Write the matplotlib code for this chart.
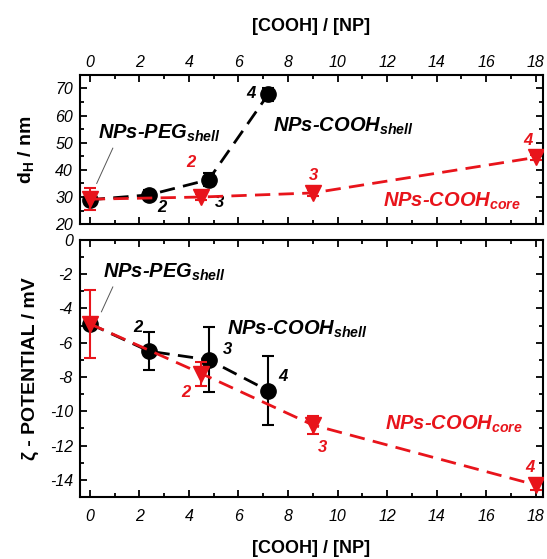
import numpy as np
import matplotlib
matplotlib.use("Agg")
from matplotlib import pyplot as plt
from matplotlib.ticker import MultipleLocator

plt.rcParams['font.family'] = ['Liberation Sans', 'DejaVu Sans']
plt.rcParams['mathtext.fontset'] = 'custom'
plt.rcParams['mathtext.rm'] = 'Liberation Sans:bold'
plt.rcParams['mathtext.it'] = 'Liberation Sans:italic:bold'
plt.rcParams['mathtext.bf'] = 'Liberation Sans:bold'
plt.rcParams['axes.unicode_minus'] = False

# data
x_shell = [0, 2.4, 4.8, 7.2]
x_core = [0, 4.5, 9, 18]

dh_shell = [29.0, 30.8, 36.4, 67.8]
dh_shell_err = [1.5, 1.8, 2.5, 2.5]
dh_core = [29.2, 30.0, 31.5, 44.6]
dh_core_err = [4.1, 1.0, 1.0, 1.0]

zeta_shell = [-4.9, -6.5, -7.0, -8.8]
zeta_shell_err = [0.3, 1.1, 1.9, 2.0]
zeta_core = [-4.9, -7.8, -10.8, -14.3]
zeta_core_err = [2.0, 0.7, 0.5, 0.3]

xticks = [0, 2, 4, 6, 8, 10, 12, 14, 16, 18]
red = "#e8141b"

fig = plt.figure(figsize=(5.47, 5.59), dpi=100)
ax1 = fig.add_axes([0.146, 0.599, 0.847, 0.267])
ax2 = fig.add_axes([0.146, 0.111, 0.847, 0.460])


def style(ax, xpad):
    for s in ax.spines.values():
        s.set_linewidth(1.5)
    ax.tick_params(which='both', direction='in', top=True, right=True, width=1.3)
    ax.tick_params(which='major', length=5, labelsize=11.5)
    ax.tick_params(axis='x', which='major', pad=xpad)
    ax.tick_params(axis='y', which='major', pad=5)
    ax.tick_params(which='minor', length=3)
    ax.set_xlim(-0.4, 18.3)
    ax.set_xticks(xticks)
    ax.xaxis.set_minor_locator(MultipleLocator(1))
    for lab in ax.get_xticklabels() + ax.get_yticklabels():
        lab.set_fontstyle('italic')


def series(ax, x, y, e, color, marker, ms, z):
    ax.errorbar(x, y, yerr=e, color=color, marker=marker, ms=ms, lw=2,
                dashes=(5.5, 3), capsize=4, elinewidth=1.5, capthick=1.5,
                zorder=z)


def label(ax, x, y, s, color='black', size=14.5, ha='left', va='baseline'):
    ax.text(x, y, s, color=color, fontsize=size, fontweight='bold',
            fontstyle='italic', ha=ha, va=va)


# top panel: hydrodynamic diameter
series(ax1, x_shell, dh_shell, dh_shell_err, 'black', 'o', 11, 3)
series(ax1, x_core, dh_core, dh_core_err, red, 'v', 11, 4)
ax1.set_ylim(20, 75)
ax1.yaxis.set_major_locator(MultipleLocator(10))
ax1.yaxis.set_minor_locator(MultipleLocator(5))
style(ax1, 3.5)
ax1.xaxis.tick_top()
ax1.tick_params(which='both', bottom=True, top=True, labelbottom=False, labeltop=True)
for lab in ax1.get_xticklabels():
    lab.set_fontstyle('italic')
ax1.xaxis.set_label_position('top')
ax1.set_xlabel('[COOH] / [NP]', fontsize=13, fontweight='bold', labelpad=17)
ax1.set_ylabel(r'd$_\mathrm{H}$ / nm', fontsize=14, fontweight='bold', labelpad=14)

label(ax1, 0.33, 51.5, r'NPs-PEG${}_{shell}$')
label(ax1, 7.4, 54, r'NPs-COOH${}_{shell}$')
label(ax1, 11.85, 26.3, r'NPs-COOH${}_{core}$', color=red)
ax1.plot([0.93, 0.28], [48, 35], color='#555555', lw=0.7)
for x, y, s in [(2.9, 26, '2'), (5.25, 28, '3'), (6.5, 68, '4')]:
    label(ax1, x, y, s, size=12, ha='center', va='center')
for x, y, s in [(4.07, 42.6, '2'), (9.05, 38, '3'), (17.7, 51, '4')]:
    label(ax1, x, y, s, color=red, size=12, ha='center', va='center')

# bottom panel: zeta potential
series(ax2, x_shell, zeta_shell, zeta_shell_err, 'black', 'o', 11, 3)
series(ax2, x_core, zeta_core, zeta_core_err, red, 'v', 11, 4)
ax2.set_ylim(-15, 0)
ax2.yaxis.set_major_locator(MultipleLocator(2))
ax2.yaxis.set_minor_locator(MultipleLocator(1))
style(ax2, 9)
ax2.set_xlabel('[COOH] / [NP]', fontsize=13, fontweight='bold', labelpad=11)
ax2.set_ylabel('ζ - POTENTIAL / mV', fontsize=14, fontweight='bold', labelpad=8)

label(ax2, 0.55, -2.2, r'NPs-PEG${}_{shell}$')
label(ax2, 5.55, -5.55, r'NPs-COOH${}_{shell}$')
label(ax2, 11.9, -11.1, r'NPs-COOH${}_{core}$', color=red)
ax2.plot([0.93, 0.47], [-2.75, -4.2], color='#555555', lw=0.7)
for x, y, s in [(1.93, -5.1, '2'), (5.56, -6.4, '3'), (7.8, -8.0, '4')]:
    label(ax2, x, y, s, size=12, ha='center', va='center')
for x, y, s in [(3.87, -8.9, '2'), (9.4, -12.1, '3'), (17.75, -13.3, '4')]:
    label(ax2, x, y, s, color=red, size=12, ha='center', va='center')

fig.align_ylabels([ax1, ax2])
fig.savefig('out.png', dpi=100)
